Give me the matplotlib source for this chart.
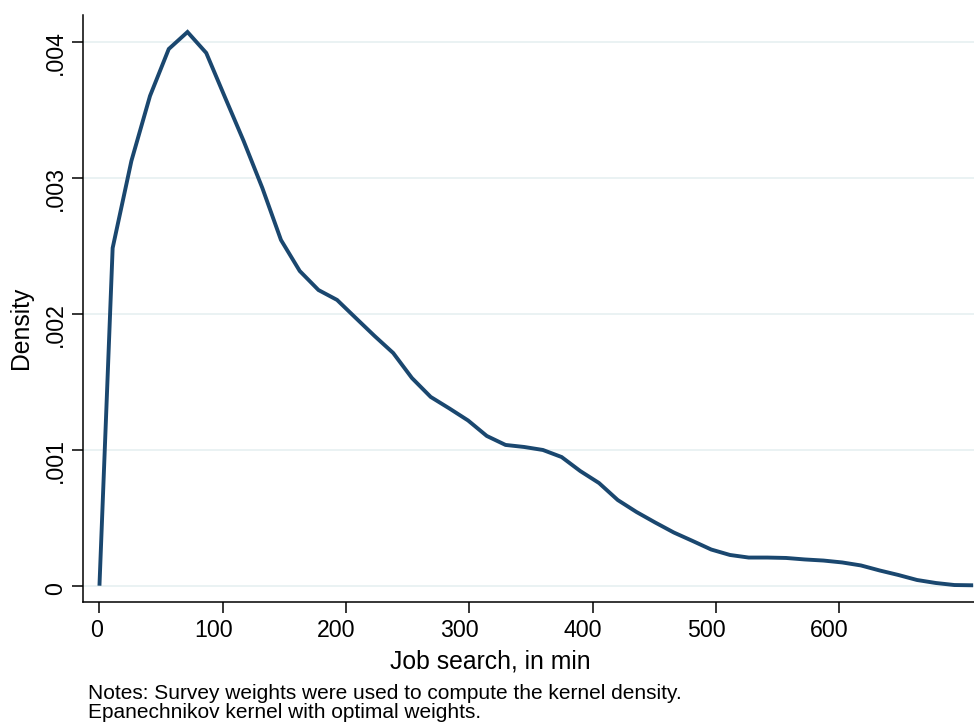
import matplotlib
matplotlib.use("Agg")
import matplotlib.pyplot as plt
import matplotlib.transforms as mtransforms
from matplotlib.ticker import FixedLocator

# Kernel density estimate of job-search time (minutes)
minutes = [0.0, 10.7, 25.9, 41.0, 56.2, 71.4, 86.6, 101.7, 116.9, 132.1, 147.2,
           162.4, 177.6, 192.7, 207.9, 223.1, 238.2, 253.4, 268.6, 283.8, 298.9,
           314.1, 329.3, 344.4, 359.6, 374.8, 389.9, 405.1, 420.3, 435.5, 450.6,
           465.8, 481.0, 496.1, 511.3, 526.5, 541.6, 556.8, 572.0, 587.1, 602.3,
           617.5, 632.7, 647.8, 663.0, 678.2, 693.3, 708.5]
density = [0.0, 2.483, 3.123, 3.601, 3.946, 4.071, 3.917, 3.593, 3.270, 2.924,
           2.542, 2.314, 2.174, 2.101, 1.968, 1.836, 1.711, 1.527, 1.388, 1.303,
           1.215, 1.101, 1.035, 1.020, 0.998, 0.946, 0.843, 0.755, 0.630, 0.542,
           0.465, 0.391, 0.329, 0.266, 0.226, 0.207, 0.207, 0.204, 0.193, 0.185,
           0.171, 0.149, 0.112, 0.079, 0.042, 0.020, 0.005, 0.003]
density = [d * 1e-3 for d in density]

x_ticks = [0, 100, 200, 300, 400, 500, 600]
x_tick_labels = ["0", "100", "200", "300", "400", "500", "600"]
y_ticks = [0.0, 0.001, 0.002, 0.003, 0.004]
y_tick_labels = ["0", ".001", ".002", ".003", ".004"]

plt.rcParams["font.family"] = ["Liberation Sans", "DejaVu Sans"]

W, H = 974, 724
fig = plt.figure(figsize=(W / 100, H / 100), dpi=100)


def fx(px):
    return px / W


def fy(py):
    return 1 - py / H


ax_left, ax_bottom, ax_top = 83.3, 602.3, 15.0
ax = fig.add_axes([fx(ax_left), fy(ax_bottom), 1 - fx(ax_left), fy(ax_top) - fy(ax_bottom)])

ax.plot(minutes, density, color="#1a476f", lw=2.8, solid_joinstyle="miter",
        solid_capstyle="butt", zorder=3)

ax.set_xlim(-13.1, 709.2)
ax.set_ylim(-0.000122, 0.004196)

ax.xaxis.set_major_locator(FixedLocator(x_ticks))
ax.yaxis.set_major_locator(FixedLocator(y_ticks))

for y in y_ticks:
    ax.axhline(y, color="#eaf2f3", lw=1.4, zorder=1)

for side in ("top", "right"):
    ax.spines[side].set_visible(False)
for side in ("left", "bottom"):
    ax.spines[side].set_linewidth(1.1)
    ax.spines[side].set_color("black")

ax.tick_params(axis="both", direction="out", length=7.7, width=1.1,
               colors="black", labelbottom=False, labelleft=False)

tick_fs = 16.7
title_fs = 17.8

# tick labels, anchored a quarter of their length before the tick
x_base = mtransforms.blended_transform_factory(ax.transData, fig.transFigure)
y_base = mtransforms.blended_transform_factory(fig.transFigure, ax.transData)
x_texts = [ax.text(t, fy(637.3), s, transform=x_base, ha="center", va="baseline",
                   fontsize=tick_fs, clip_on=False)
           for t, s in zip(x_ticks, x_tick_labels)]
y_texts = [ax.text(fx(61.7), t, s, transform=y_base, ha="center", va="baseline",
                   rotation=90, rotation_mode="anchor", fontsize=tick_fs, clip_on=False)
           for t, s in zip(y_ticks, y_tick_labels)]

fig.canvas.draw()
renderer = fig.canvas.get_renderer()
for txt in x_texts:
    w = txt.get_window_extent(renderer).width
    txt.set_transform(mtransforms.offset_copy(x_base, fig=fig, x=-0.25 * w, y=0, units="dots"))
for txt in y_texts:
    h = txt.get_window_extent(renderer).height
    txt.set_transform(mtransforms.offset_copy(y_base, fig=fig, x=0, y=-0.25 * h, units="dots"))

fig.text(fx(490.3), fy(668), "Job search, in min", fontsize=title_fs,
         ha="center", va="baseline")
fig.text(fx(28.3), fy(327.5), "Density", fontsize=title_fs, ha="center",
         va="baseline", rotation=90, rotation_mode="anchor")

fig.text(fx(88), fy(699),
         "Notes: Survey weights were used to compute the kernel density.",
         fontsize=15, ha="left", va="baseline")
fig.text(fx(88), fy(718.5),
         "Epanechnikov kernel with optimal weights.",
         fontsize=15, ha="left", va="baseline")

fig.savefig("out.png", dpi=100, facecolor="white")
